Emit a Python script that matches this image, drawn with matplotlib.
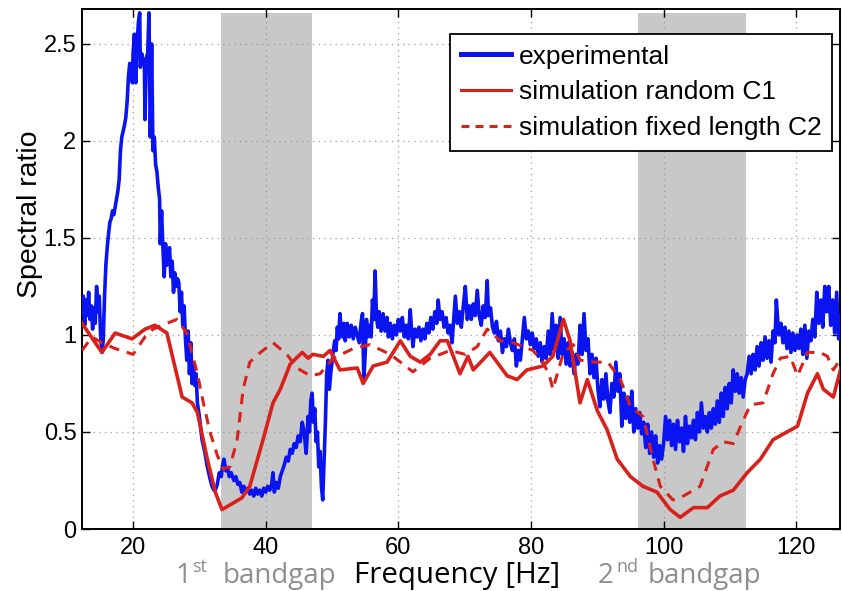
import matplotlib
matplotlib.use("Agg")
import matplotlib.pyplot as plt
from matplotlib.lines import Line2D

# experimental spectral ratio (noisy trace)
exp_freq = [
    12.3, 12.5, 12.7, 12.9, 13.1, 13.3, 13.5, 13.7, 13.9, 14.1, 14.3, 14.5, 14.7, 14.9, 15.1, 15.3,
    15.5, 15.7, 15.9, 16.1, 16.3, 16.5, 16.7, 16.9, 17.1, 17.3, 17.5, 17.7, 17.9, 18.1, 18.3, 18.5,
    18.7, 18.9, 19.1, 19.3, 19.5, 19.7, 19.9,
    20.0, 20.2, 20.4, 20.6, 20.8, 21.0, 21.1, 21.3, 21.5, 21.7, 21.8, 22.0, 22.2, 22.4, 22.6, 22.8,
    23.0, 23.2, 23.4, 23.6, 23.8, 24.0,
    24.1, 24.3, 24.5, 24.7, 24.9, 25.1, 25.3, 25.5, 25.7, 25.9, 26.1, 26.3, 26.5, 26.7, 26.9, 27.1,
    27.3, 27.5, 27.7, 27.9,
    28.1, 28.3, 28.5, 28.7, 28.9, 29.1, 29.3, 29.5, 29.7, 30.0, 30.4, 30.8, 31.2, 31.6, 31.9, 32.2,
    32.4, 32.7, 33.0, 33.3, 33.5, 33.7, 34.0, 34.3, 34.5, 34.8, 35.2, 35.5, 35.8, 36.1, 36.4,
    36.7, 37.0, 37.3, 37.6, 37.9, 38.2, 38.5, 38.8, 39.1, 39.4, 39.7, 40.0, 40.3, 40.6, 40.9, 41.1,
    41.3, 41.6, 41.9, 42.2,
    42.5, 42.8, 43.1, 43.4, 43.7, 44.0, 44.3, 44.6, 44.9, 45.2, 45.5, 45.8, 46.1, 46.4, 46.6, 46.8,
    47.0, 47.2, 47.4, 47.6, 47.8, 48.0, 48.2, 48.4, 48.6, 48.8, 49.0, 49.2, 49.4, 49.6, 49.8,
    50.0, 50.2, 50.4, 50.6, 50.8, 51.0, 51.2, 51.4, 51.6, 51.8, 52.0, 52.3, 52.6, 52.9, 53.2, 53.5,
    53.8, 54.1, 54.4, 54.6,
    54.8, 55.0, 55.2, 55.4, 55.7, 55.9, 56.1, 56.3, 56.5, 56.7, 56.9, 57.1, 57.4, 57.7, 58.0, 58.3,
    58.5, 58.8,
    59.1, 59.4, 59.7, 60.0, 60.3, 60.6, 60.9, 61.2, 61.5, 61.8, 62.0, 62.2, 62.5, 62.8, 63.1, 63.4,
    63.7, 64.0, 64.3, 64.6,
    64.9, 65.2, 65.5, 65.8, 66.0, 66.3, 66.6, 66.9, 67.2, 67.5, 67.8, 68.1, 68.4, 68.6, 68.9, 69.2,
    69.5, 69.8, 70.1, 70.4,
    70.7, 71.0, 71.3, 71.6, 71.9, 72.2, 72.5, 72.8, 73.1, 73.4, 73.6, 73.9, 74.2, 74.5, 74.8, 75.1,
    75.4, 75.7, 76.0, 76.3,
    76.6, 76.9, 77.2, 77.5, 77.8, 78.1, 78.4, 78.7, 79.0, 79.3, 79.6, 79.9, 80.2, 80.5, 80.8, 81.1,
    81.4, 81.7, 82.0, 82.3,
    82.6, 82.9, 83.2, 83.5, 83.8, 84.1, 84.4, 84.7, 85.0, 85.3, 85.6, 85.9, 86.2, 86.5, 86.8, 87.1,
    87.4, 87.7, 88.0, 88.3,
    88.6, 88.9, 89.2, 89.5, 89.8, 90.1, 90.4, 90.7, 91.0, 91.3, 91.6, 91.9, 92.2, 92.5, 92.8, 93.1,
    93.4, 93.7, 94.0, 94.3,
    94.6, 94.9, 95.2, 95.5, 95.8, 96.1, 96.4, 96.7, 97.0, 97.3, 97.6, 97.9, 98.2, 98.5, 98.8, 99.1,
    99.4, 99.7, 100.0, 100.3,
    100.6, 100.9, 101.2, 101.5, 101.8, 102.1, 102.4, 102.7, 103.0, 103.3, 103.6, 103.9, 104.2, 104.5,
    104.8, 105.1, 105.4, 105.7, 106.0, 106.3,
    106.6, 106.9, 107.2, 107.5, 107.8, 108.1, 108.4, 108.7, 109.0, 109.3, 109.6, 109.9, 110.2, 110.5,
    110.8, 111.1, 111.4, 111.7, 112.0, 112.3,
    112.6, 112.9, 113.2, 113.5, 113.8, 114.1, 114.4, 114.7, 115.0, 115.3, 115.6, 115.9, 116.2, 116.5,
    116.8, 117.0, 117.2, 117.4, 117.7, 118.0,
    118.3, 118.6, 118.9, 119.2, 119.5, 119.8, 120.1, 120.4, 120.7, 121.0, 121.3, 121.6, 121.9, 122.2,
    122.5, 122.8, 123.1, 123.4, 123.7, 124.0,
    124.3, 124.6, 124.9, 125.2, 125.5, 125.8, 126.1, 126.4, 126.7, 127.0,
]
exp_ratio = [
    1.12, 1.20, 1.05, 1.18, 1.10, 1.22, 1.08, 1.15, 1.03, 1.14, 1.06, 1.25, 1.12, 1.20, 1.00, 0.91,
    0.97, 1.20, 1.36, 1.45, 1.52, 1.58, 1.60, 1.64, 1.62, 1.66, 1.70, 1.74, 1.80, 1.95, 2.02, 2.05,
    2.08, 2.12, 2.20, 2.33, 2.40, 2.37, 2.30,
    2.45, 2.55, 2.30, 2.50, 2.61, 2.66, 2.38, 2.45, 2.40, 2.42, 2.11, 2.43, 2.45, 2.66, 2.02, 2.50,
    1.95, 2.02, 1.88, 1.84, 1.76, 1.70,
    1.47, 1.64, 1.45, 1.30, 1.47, 1.36, 1.39, 1.45, 1.30, 1.38, 1.22, 1.32, 1.25, 1.29, 1.27, 1.12,
    1.22, 1.05, 1.15, 0.98,
    0.87, 1.02, 0.80, 0.96, 0.75, 0.85, 0.74, 0.80, 0.65, 0.58, 0.46, 0.40, 0.32, 0.26, 0.22, 0.20,
    0.20, 0.23, 0.29, 0.27, 0.33, 0.36, 0.30, 0.31, 0.27, 0.29, 0.25, 0.27, 0.23, 0.24, 0.19,
    0.22, 0.19, 0.21, 0.18, 0.20, 0.17, 0.21, 0.18, 0.20, 0.17, 0.21, 0.19, 0.22, 0.20, 0.23, 0.29,
    0.19, 0.24, 0.21, 0.27,
    0.30, 0.33, 0.37, 0.35, 0.41, 0.39, 0.44, 0.42, 0.48, 0.45, 0.55, 0.50, 0.39, 0.58, 0.50, 0.66,
    0.70, 0.55, 0.62, 0.45, 0.50, 0.32, 0.40, 0.22, 0.15, 0.35, 0.55, 0.80, 0.87, 0.72, 0.80,
    0.86, 0.92, 0.97, 0.92, 1.04, 0.98, 1.11, 1.02, 0.99, 1.06, 0.97, 1.06, 0.99, 1.05, 0.98, 1.04,
    1.00, 0.96, 1.07, 1.11,
    0.77, 0.90, 1.08, 0.99, 1.05, 0.99, 1.18, 1.08, 1.33, 1.10, 1.04, 1.12, 1.02, 1.11, 1.02, 1.09,
    0.99, 1.06,
    0.98, 1.05, 1.00, 1.08, 1.02, 1.09, 0.99, 1.05, 0.98, 1.13, 1.02, 0.94, 1.03, 0.99, 1.04, 0.97,
    1.03, 0.98, 1.06, 1.01,
    1.09, 1.03, 1.12, 1.06, 1.18, 1.08, 1.12, 1.04, 1.09, 1.01, 1.05, 0.96, 1.10, 1.20, 1.06, 1.12,
    1.04, 1.15, 1.25, 1.08,
    1.15, 1.08, 1.16, 1.10, 1.23, 1.10, 1.05, 1.15, 1.09, 1.28, 1.10, 1.14, 1.04, 1.01, 1.07, 0.97,
    1.02, 0.91, 0.98, 0.94,
    1.03, 0.96, 0.92, 0.98, 0.84, 0.92, 0.87, 0.98, 1.09, 0.98, 1.02, 0.95, 1.01, 0.93, 0.98, 0.89,
    0.96, 0.86, 0.94, 0.88,
    1.02, 0.90, 1.11, 0.92, 1.05, 0.88, 1.09, 0.90, 0.98, 0.85, 0.96, 0.84, 0.91, 0.80, 0.90, 0.85,
    1.05, 0.90, 1.11, 0.92,
    0.98, 0.80, 0.90, 0.78, 0.88, 0.72, 0.63, 0.77, 0.67, 0.80, 0.66, 0.60, 0.75, 0.68, 0.86, 0.71,
    0.80, 0.53, 0.70, 0.57,
    0.68, 0.55, 0.71, 0.50, 0.62, 0.52, 0.60, 0.49, 0.55, 0.42, 0.54, 0.39, 0.50, 0.37, 0.48, 0.34,
    0.43, 0.36, 0.44, 0.58,
    0.46, 0.56, 0.43, 0.54, 0.41, 0.56, 0.45, 0.52, 0.40, 0.58, 0.44, 0.53, 0.47, 0.56,
    0.46, 0.60, 0.50, 0.65, 0.52, 0.58,
    0.50, 0.60, 0.52, 0.62, 0.54, 0.66, 0.55, 0.70, 0.58, 0.73, 0.62, 0.75, 0.65, 0.82,
    0.71, 0.80, 0.70, 0.78, 0.68, 0.77,
    0.80, 0.89, 0.80, 0.90, 0.82, 0.94, 0.84, 0.96, 0.87, 0.99, 0.88, 0.97, 0.86, 1.02,
    0.96, 1.18, 1.08, 1.00, 1.06, 0.96,
    1.04, 0.93, 1.02, 0.91, 1.01, 0.92, 1.00, 0.93, 1.03, 0.90, 1.05, 0.88, 1.02, 0.97,
    1.08, 0.99, 1.22, 1.06, 1.18, 1.04,
    1.25, 1.12, 1.25, 1.05, 1.18, 1.01, 1.22, 0.98, 1.10, 1.04,
]

# simulation random C1 (solid red)
c1_freq = [12.3, 15.3, 17.3, 19.85, 21.8, 23.3, 25.1, 27.4, 28.9, 29.7,
           31.2, 32.4, 33.4, 36.4, 37.6, 39.6, 41.1, 42.2, 43.7, 45.5,
           46.4, 47.1, 48.7, 49.7, 51.2, 53.8, 54.7, 56.2, 58.3, 60.3,
           61.8, 63.3, 64.8, 66.3, 67.4, 69.3, 70.5, 71.3, 73.8, 76.4,
           77.9, 79.4, 81.8, 83.3, 84.9, 85.9, 87.4, 88.5, 90.0, 91.5,
           93.0, 95.0, 96.9, 99.0, 101.0, 102.5, 104.5, 106.6, 108.5, 110.5,
           112.6, 114.6, 116.5, 118.6, 120.2, 121.7, 123.2, 124.1, 125.6, 126.9]
c1_ratio = [1.06, 0.91, 1.01, 0.98, 1.03, 1.05, 1.01, 0.68, 0.65, 0.60,
            0.36, 0.19, 0.10, 0.16, 0.22, 0.46, 0.65, 0.72, 0.85, 0.91,
            0.88, 0.90, 0.89, 0.92, 0.82, 0.83, 0.75, 0.84, 0.86, 0.97,
            0.89, 0.86, 0.90, 0.97, 0.97, 0.80, 0.89, 0.82, 0.91, 0.79,
            0.77, 0.82, 0.84, 0.89, 1.08, 0.97, 0.65, 0.77, 0.61, 0.51,
            0.36, 0.27, 0.22, 0.19, 0.10, 0.06, 0.11, 0.11, 0.17, 0.20,
            0.29, 0.36, 0.46, 0.50, 0.53, 0.70, 0.80, 0.72, 0.68, 0.85]

# simulation fixed length C2 (dashed red)
c2_freq = [12.3, 13.8, 15.3, 17.3, 20.0, 21.8, 23.0, 25.1, 26.6, 28.1,
           29.7, 30.6, 31.6, 32.7, 33.6, 34.6, 35.7, 36.6, 37.6, 39.2,
           41.1, 43.2, 44.7, 46.7, 48.2, 50.2, 53.2, 55.7, 58.8, 62.2,
           64.8, 67.8, 70.1, 71.9, 73.4, 75.4, 77.3, 80.3, 81.8, 82.8,
           83.3, 84.9, 86.4, 87.4, 89.7, 91.6, 93.5, 95.0, 96.9, 98.4,
           99.5, 101.4, 103.0, 105.5, 107.5, 109.0, 110.5, 112.0, 113.1, 115.0,
           116.5, 117.6, 119.1, 120.2, 121.7, 123.6, 124.7, 125.6, 126.9]
c2_ratio = [0.92, 0.99, 0.96, 0.93, 0.90, 0.99, 1.03, 1.06, 1.08, 1.01,
            0.80, 0.65, 0.50, 0.38, 0.31, 0.32, 0.46, 0.72, 0.86, 0.91,
            0.96, 0.90, 0.83, 0.79, 0.80, 0.88, 0.93, 0.95, 0.90, 0.81,
            0.88, 0.92, 0.90, 0.94, 1.03, 0.97, 0.96, 0.92, 0.86, 0.79,
            0.72, 0.91, 0.95, 0.87, 0.86, 0.86, 0.77, 0.63, 0.58, 0.36,
            0.22, 0.15, 0.17, 0.22, 0.41, 0.45, 0.44, 0.56, 0.64, 0.65,
            0.80, 0.88, 0.89, 0.79, 0.91, 0.91, 0.89, 0.82, 0.89]

# bandgap bands (Hz)
band_lo = [33.3, 96.2]
band_hi = [47.0, 112.5]

x_ticks = [20, 40, 60, 80, 100, 120]
y_ticks = [0, 0.5, 1, 1.5, 2, 2.5]
y_tick_labels = ["0", "0.5", "1", "1.5", "2", "2.5"]
legend_labels = ["experimental", "simulation random C1", "simulation fixed length C2"]

BLUE = "#0a14f0"
RED = "#d9211c"
GRAY_TXT = "#8e8e8e"

plt.rcParams["font.family"] = ["Liberation Sans", "DejaVu Sans"]

fig = plt.figure(figsize=(8.42, 5.91), dpi=100)
ax = fig.add_axes([82 / 842, 62 / 591, 758 / 842, 520 / 591])

for lo, hi in zip(band_lo, band_hi):
    ax.axvspan(lo, hi, ymin=0, ymax=0.992, color="#c8c8c8", lw=0, zorder=1)

ax.plot(exp_freq, exp_ratio, color=BLUE, lw=2.6, zorder=3)
ax.plot(c1_freq, c1_ratio, color=RED, lw=2.6, zorder=4)
ax.plot(c2_freq, c2_ratio, color=RED, lw=2.2, dashes=(3.4, 2.6), zorder=4)

ax.set_xlim(12.3, 126.6)
ax.set_ylim(0, 2.68)
ax.set_xticks(x_ticks)
ax.set_yticks(y_ticks)
ax.set_yticklabels(y_tick_labels)
ax.grid(True, linestyle=(0, (1, 3.5)), color="#9a9a9a", lw=0.9)
ax.tick_params(direction="in", length=6, width=1, top=True, right=True, labelsize=17)
ax.tick_params(axis="x", pad=6)
ax.tick_params(axis="y", pad=4)
for sp in ax.spines.values():
    sp.set_linewidth(1.4)

handles = [
    Line2D([], [], color=BLUE, lw=3.6),
    Line2D([], [], color=RED, lw=2.2),
    Line2D([], [], color=RED, lw=2.2, dashes=(2.6, 2.0)),
]
leg = ax.legend(handles, legend_labels, loc="upper right",
                bbox_to_anchor=(832 / 842, 1 - 34 / 591), bbox_transform=fig.transFigure,
                borderaxespad=0, fontsize=19, frameon=True, fancybox=False,
                edgecolor="black", framealpha=1, borderpad=0.4, labelspacing=0.45,
                handlelength=1.9, handletextpad=0.3)
leg.get_frame().set_linewidth(1.3)

fig.text(30 / 842, 1 - 214 / 591, "Spectral ratio", rotation=90, fontsize=20.5,
         ha="center", va="center")

# bottom annotations (Calibri-like font)
lab_font = ["Open Sans", "DejaVu Sans"]
base_y = 1 - 583 / 591
fig.text(354 / 842, base_y, "Frequency [Hz]", fontsize=21.3, family=lab_font,
         ha="left", va="baseline", color="black")
fig.text(175 / 842, base_y, "1", fontsize=20, family=lab_font, ha="left", va="baseline", color=GRAY_TXT)
fig.text(192 / 842, 1 - 572 / 591, "st", fontsize=13, family=lab_font, ha="left", va="baseline", color=GRAY_TXT)
fig.text(223 / 842, base_y, "bandgap", fontsize=20, family=lab_font, ha="left", va="baseline", color=GRAY_TXT)
fig.text(598 / 842, base_y, "2", fontsize=20, family=lab_font, ha="left", va="baseline", color=GRAY_TXT)
fig.text(616 / 842, 1 - 572 / 591, "nd", fontsize=13, family=lab_font, ha="left", va="baseline", color=GRAY_TXT)
fig.text(648 / 842, base_y, "bandgap", fontsize=20, family=lab_font, ha="left", va="baseline", color=GRAY_TXT)

fig.savefig("out.png", dpi=100)
